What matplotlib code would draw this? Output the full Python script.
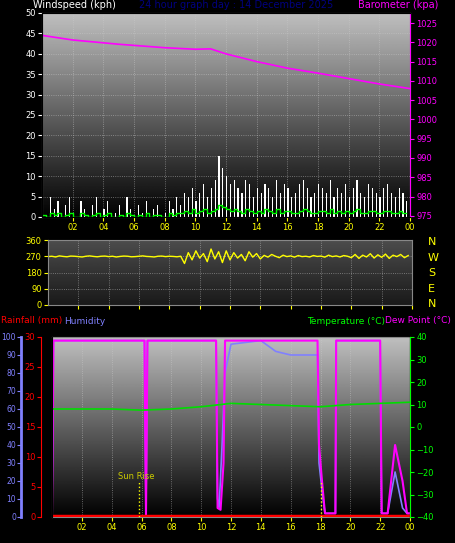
import matplotlib.pyplot as plt
import numpy as np

# 15-minute samples over 24 h
gust = [3, 0, 5, 2, 4, 0, 3, 5, 1, 0, 4, 2, 0, 3, 5, 0, 2, 4, 0, 1, 3, 0, 5, 2,
        0, 3, 1, 4, 0, 2, 3, 0, 1, 4, 2, 5, 3, 6, 5, 7, 4, 6, 8, 5, 7, 9, 15, 12,
        10, 8, 9, 7, 6, 9, 8, 5, 7, 6, 8, 7, 5, 9, 6, 8, 7, 5, 6, 8, 9, 7, 5, 6,
        8, 7, 6, 9, 5, 7, 6, 8, 5, 7, 9, 6, 5, 8, 7, 6, 5, 7, 8, 6, 5, 7, 6, 4]
avg_wind = [0.5, 0, 1, 0.5, 1, 0, 0.5, 1, 0, 0, 1, 0.5, 0, 0.5, 1, 0, 0.5, 1, 0, 0, 0.5, 0, 1, 0.5,
            0, 0.5, 0, 1, 0, 0.5, 0.5, 0, 0, 1, 0.5, 1, 1, 1.5, 1, 2, 1, 1.5, 2, 1, 1.5, 2, 3, 2.5,
            2, 1.5, 2, 1.5, 1, 2, 1.5, 1, 1.5, 1, 2, 1.5, 1, 2, 1, 1.5, 1.5, 1, 1, 1.5, 2, 1.5, 1, 1,
            1.5, 1.5, 1, 2, 1, 1.5, 1, 1.5, 1, 1.5, 2, 1, 1, 1.5, 1.5, 1, 1, 1.5, 1.5, 1, 1, 1.5, 1, 1]
wind_dir = [268, 270, 266, 272, 269, 267, 271, 270, 268, 266, 270, 272, 269, 267, 270, 271,
            268, 270, 266, 269, 271, 270, 267, 268, 270, 272, 269, 268, 266, 270, 271, 268,
            270, 269, 267, 270, 230, 290, 250, 300, 260, 285, 240, 310, 255, 295, 235, 300,
            250, 290, 260, 280, 245, 295, 265, 285, 255, 275, 265, 280, 270, 262, 276, 268,
            272, 265, 274, 268, 270, 266, 274, 269, 271, 265, 276, 268, 272, 266, 274, 270,
            262, 280, 258, 276, 266, 284, 260, 278, 264, 282, 258, 276, 268, 280, 262, 274]

press_h = [0, 2, 5, 8, 10, 11, 12, 14, 16, 18, 20, 22, 24]
pressure = [1021.8, 1020.6, 1019.5, 1018.6, 1018.2, 1018.3, 1017.0, 1015.0, 1013.3, 1012.0, 1010.6, 1009.2, 1008.0]

hum_h = [0, 0.1, 6.2, 6.3, 6.4, 11.0, 11.1, 11.2, 11.4, 11.6, 12.0, 14.0, 14.5, 15.0, 16.0,
         17.8, 17.9, 18.1, 18.3, 19.0, 19.05, 22.0, 22.1, 22.5, 23.0, 23.5, 23.8, 24.0]
humidity = [4, 98, 98, 2, 98, 98, 10, 5, 40, 80, 96, 98, 95, 92, 90,
            90, 30, 15, 2, 2, 98, 98, 2, 2, 25, 5, 2, 2]
dew_h = [0, 0.1, 6.2, 6.3, 6.4, 11.0, 11.1, 11.3, 11.5, 11.6, 17.8, 17.9, 18.1, 18.3,
         19.0, 19.05, 22.0, 22.1, 22.5, 23.0, 23.5, 23.8, 24.0]
dewpoint = [2, 98, 98, 0, 98, 98, 5, 4, 30, 98, 98, 40, 20, 2, 2, 98, 98, 2, 2, 40, 20, 2, 2]
temp_h = [0, 4, 6, 8, 10, 12, 14, 16, 18, 20, 22, 24]
temperature = [8, 8, 7.5, 8, 9, 10.5, 10, 9.5, 9, 10, 10.5, 11]
sun_events = [5.8, 18.0]

hour_ticks = list(range(2, 25, 2))
hour_labels = ['%02d' % (h % 24) for h in hour_ticks]

fig = plt.figure(figsize=(4.55, 5.43), dpi=100, facecolor='black')
W, H = 455, 543

def box(l, t, r, b):
    return [l / W, 1 - b / H, (r - l) / W, (b - t) / H]

def gradient(ax, top=0.75, bottom=0.0):
    g = np.linspace(top, bottom, 256).reshape(-1, 1)
    ax.imshow(g, cmap='gray', vmin=0, vmax=1, aspect='auto', extent=[0, 1, 0, 1],
              transform=ax.transAxes, zorder=0)

def style(ax, ycol):
    ax.set_facecolor('black')
    for s in ax.spines.values():
        s.set_color('#888888')
    ax.tick_params(colors=ycol, labelsize=6, length=3, pad=1.5)
    ax.grid(True, color='#cccccc', linestyle=':', linewidth=0.6, alpha=0.6)
    ax.set_xlim(0, 24)
    ax.set_xticks(hour_ticks)
    ax.set_xticklabels(hour_labels)
    ax.tick_params(axis='x', colors='yellow')

t15 = np.arange(96) * 0.25

# Top panel
ax1 = fig.add_axes(box(42, 13, 410, 217))
style(ax1, 'white')
gradient(ax1)
ax1.bar(t15, gust, width=0.08, align='edge', color='white', zorder=2)
ax1.step(t15, avg_wind, where='post', color='#00ff00', linewidth=1, zorder=3)
ax1.set_ylim(0, 50)
ax1.set_yticks(range(0, 51, 5))
ax1r = ax1.twinx()
ax1r.plot(press_h, pressure, color='magenta', linewidth=1.2)
ax1r.set_ylim(974.7, 1027.6)
ax1r.set_yticks(range(975, 1026, 5))
ax1r.tick_params(colors='magenta', labelsize=6, length=3, pad=1.5)
ax1r.spines['right'].set_color('magenta')
fig.text(33 / W, 1 - 5 / H, 'Windspeed (kph)', color='white', fontsize=7, va='center')
fig.text(0.52, 1 - 5 / H, '24 hour graph day : 14 December 2025', color='#000080',
         fontsize=7, va='center', ha='center')
fig.text(438 / W, 1 - 5 / H, 'Barometer (kpa)', color='magenta', fontsize=7, va='center', ha='right')

# Middle panel
ax2 = fig.add_axes(box(48, 240, 412, 305))
style(ax2, 'yellow')
gradient(ax2, 0.3, 0.1)
ax2.plot(t15, wind_dir, color='yellow', linewidth=1)
ax2.set_ylim(0, 360)
ax2.set_yticks([0, 90, 180, 270, 360])
ax2.tick_params(axis='x', labelbottom=False)
for i, lab in enumerate(['N', 'W', 'S', 'E', 'N']):
    fig.text(428 / W, 1 - (242 + i * 15.5) / H, lab, color='yellow', fontsize=8, va='center')

# Bottom panel
ax3 = fig.add_axes(box(52, 337, 410, 517))
style(ax3, 'red')
gradient(ax3)
ax3.set_ylim(0, 100)
ax3.set_yticks([])
ax3.plot(hum_h, humidity, color='#8080ff', linewidth=1.2, zorder=3)
ax3.plot(dew_h, dewpoint, color='#ff00ff', linewidth=1.5, zorder=3)
ax3.axhline(0.8, color='red', linewidth=2.5, zorder=4)
for s in sun_events:
    ax3.plot([s, s], [0, 20], color='yellow', linestyle=':', linewidth=1, zorder=4)
ax3.text(sun_events[0] - 1.4, 21, 'Sun Rise', color='#cccc00', fontsize=6)

axr = ax3.twinx()
axr.set_ylim(0, 30)
axr.set_yticks(range(0, 31, 5))
axr.yaxis.set_ticks_position('left')
axr.spines['left'].set_position(('outward', 8))
axr.spines['left'].set_color('red')
axr.tick_params(colors='red', labelsize=6, length=3, pad=1)

axh = ax3.twinx()
axh.set_ylim(0, 100)
axh.set_yticks(range(0, 101, 10))
axh.yaxis.set_ticks_position('left')
axh.spines['left'].set_position(('outward', 22))
axh.spines['left'].set_color('#8080ff')
axh.spines['left'].set_linewidth(2)
axh.tick_params(colors='#8080ff', labelsize=5.5, length=3, pad=1)

axt = ax3.twinx()
axt.plot(temp_h, temperature, color='#00dd00', linewidth=1.2)
axt.set_ylim(-40, 40)
axt.set_yticks(range(-40, 41, 10))
axt.tick_params(colors='#00ff00', labelsize=6, length=3, pad=1.5)
axt.spines['right'].set_color('#00ff00')
for a in (axr, axh, axt):
    for k in ('top', 'bottom'):
        a.spines[k].set_visible(False)

fig.text(1 / W, 1 - 321 / H, 'Rainfall (mm)', color='red', fontsize=6.5, va='center')
fig.text(64 / W, 1 - 321 / H, 'Humidity', color='#8080ff', fontsize=6.5, va='center')
fig.text(385 / W, 1 - 321 / H, 'Temperature (°C)', color='#00ff00', fontsize=6.5, va='center', ha='right')
fig.text(385 / W, 1 - 321 / H, 'Dew Point (°C)', color='magenta', fontsize=6.5, va='center')

fig.savefig('out.png', dpi=100, facecolor='black')
